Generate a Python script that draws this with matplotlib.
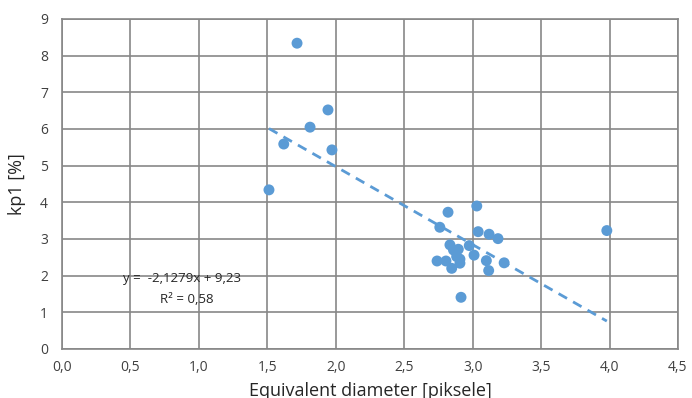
import matplotlib
matplotlib.use("Agg")
import matplotlib.pyplot as plt
import matplotlib.ticker as ticker
import numpy as np

# data
diameter = [1.717, 1.943, 1.812, 1.62, 1.972, 1.512,
            3.03, 2.82, 2.76, 3.04, 3.12, 3.185, 3.98,
            2.834, 2.975, 2.86, 2.895, 3.01, 2.883, 2.907,
            2.74, 2.805, 2.907, 2.847, 3.10, 3.23, 3.117, 2.915]
kp1 = [8.34, 6.52, 6.05, 5.59, 5.43, 4.34,
       3.90, 3.73, 3.32, 3.20, 3.13, 3.01, 3.23,
       2.84, 2.82, 2.70, 2.72, 2.56, 2.52, 2.45,
       2.40, 2.40, 2.34, 2.20, 2.41, 2.35, 2.14, 1.41]

slope = -2.1279
intercept = 9.23
r2 = 0.58

blue = "#5B9BD5"
grid_col = "#878787"

plt.rcParams['font.family'] = ['Open Sans', 'DejaVu Sans']

fig = plt.figure(figsize=(6.92, 3.98), dpi=100)
ax = fig.add_axes([62/692, 1 - 349/398, 616/692, 330/398])

ax.scatter(diameter, kp1, s=62, color=blue, marker='o', zorder=3,
           edgecolors='none')

# trend line over the data range
x_fit = np.array([min(diameter), max(diameter)])
ax.plot(x_fit, slope * x_fit + intercept, color=blue, lw=2,
        linestyle=(0, (3.5, 2.5)), zorder=2)

ax.set_xlim(0, 4.5)
ax.set_ylim(0, 9)
ax.xaxis.set_major_locator(ticker.MultipleLocator(0.5))
ax.yaxis.set_major_locator(ticker.MultipleLocator(1))
ax.xaxis.set_major_formatter(ticker.FuncFormatter(lambda v, p: f"{v:.1f}".replace('.', ',')))
ax.yaxis.set_major_formatter(ticker.FuncFormatter(lambda v, p: f"{v:g}"))

ax.grid(True, color=grid_col, lw=1.2)
ax.set_axisbelow(True)
for s in ax.spines.values():
    s.set_color(grid_col)
    s.set_linewidth(1.2)
ax.tick_params(length=0, labelsize=10, colors="#404040", pad=8)
ax.tick_params(axis='y', pad=10)

ax.set_ylabel("kp1 [%]", fontsize=13, color="#262626", labelpad=10)
ax.set_xlabel("Equivalent diameter [piksele]", fontsize=13, color="#262626", labelpad=5)

ax.text(0.88, 1.91, f"y =  {slope:.4f}x + {intercept:.2f}".replace('.', ','),
        fontsize=9.5, ha='center', va='center', color="#262626")
ax.text(0.91, 1.34, f"R² = {r2:.2f}".replace('.', ','),
        fontsize=9.5, ha='center', va='center', color="#262626")

fig.savefig("out.png", dpi=100)
